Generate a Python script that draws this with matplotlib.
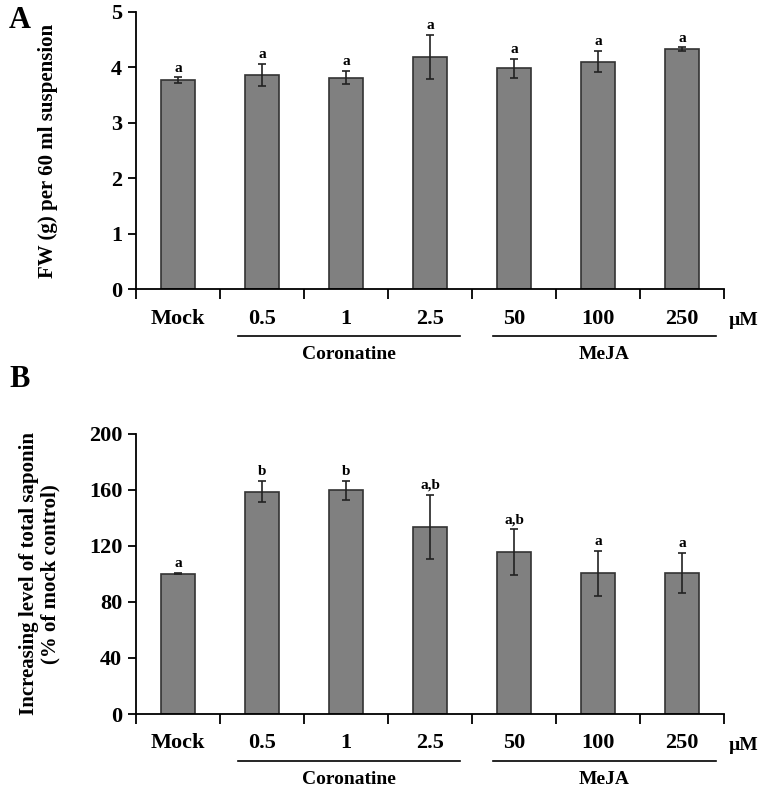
import numpy as np
import matplotlib
matplotlib.use("Agg")
import matplotlib.pyplot as plt
from matplotlib.transforms import offset_copy

plt.rcParams['font.family'] = ['Liberation Serif', 'DejaVu Serif']
plt.rcParams['font.weight'] = 'bold'

categories = ['Mock', '0.5', '1', '2.5', '50', '100', '250']

fw_mean = [3.77, 3.86, 3.81, 4.19, 3.98, 4.10, 4.33]
fw_err = [0.05, 0.20, 0.12, 0.40, 0.17, 0.19, 0.03]
fw_letters = ['a', 'a', 'a', 'a', 'a', 'a', 'a']

sap_mean = [100.0, 158.6, 159.5, 133.5, 115.5, 100.5, 100.5]
sap_err = [0.5, 7.5, 7.0, 23.0, 16.5, 16.0, 14.5]
sap_letters = ['a', 'b', 'b', 'a,b', 'a,b', 'a', 'a']

groups = [('Coronatine', 0.71, 3.36), ('MeJA', 3.75, 6.40)]

BAR = '#808080'
EDGE = '#333333'

fig = plt.figure(figsize=(7.62, 7.90), dpi=100)


def draw_panel(rect, mean, err, letters, ymax, yticks, ylabel, panel, panel_y, label_x):
    ax = fig.add_axes(rect)
    x = np.arange(len(categories))
    ax.bar(x, mean, width=0.41, color=BAR, edgecolor=EDGE, linewidth=1.2, zorder=2)
    ax.errorbar(x, mean, yerr=err, fmt='none', ecolor='#222222', elinewidth=1.2,
                capsize=3, capthick=1.2, zorder=3)
    for xi, m, e, lab in zip(x, mean, err, letters):
        ax.annotate(lab, (xi, m + e), xytext=(0, 2), textcoords='offset points',
                    ha='center', va='bottom', fontsize=11, fontweight='bold')

    ax.set_xlim(-0.5, len(categories) - 0.5)
    ax.set_ylim(0, ymax)
    ax.set_yticks(yticks)
    ax.set_xticks(np.arange(len(categories) + 1) - 0.5)
    ax.set_xticklabels([])
    ax.set_xticks(x, minor=True)
    ax.set_xticklabels(categories, minor=True, fontsize=16, fontweight='bold')
    ax.tick_params(axis='x', which='major', direction='out', length=7, width=1.3)
    ax.tick_params(axis='x', which='minor', length=0, pad=14)
    ax.tick_params(axis='y', direction='out', length=6, width=1.3, labelsize=16, pad=4)
    for t in ax.get_yticklabels():
        t.set_fontweight('bold')
    for s in ['top', 'right']:
        ax.spines[s].set_visible(False)
    for s in ['left', 'bottom']:
        ax.spines[s].set_linewidth(1.3)

    ax.set_ylabel(ylabel, fontsize=15, fontweight='bold', linespacing=1.1)
    ax.yaxis.set_label_coords(label_x, 0.5)

    trans = ax.get_xaxis_transform()
    line_tr = offset_copy(trans, fig=fig, y=-47, units='dots')
    text_tr = offset_copy(trans, fig=fig, y=-65, units='dots')
    for name, x0, x1 in groups:
        ax.plot([x0, x1], [0, 0], color='black', lw=1.2, transform=line_tr, clip_on=False)
        ax.text((x0 + x1) / 2, 0, name, transform=text_tr, ha='center', va='center',
                fontsize=14, fontweight='bold')
    mu_tr = offset_copy(trans, fig=fig, y=-31, units='dots')
    ax.text(len(categories) - 0.5 + 0.05, 0, '\u00b5M', transform=mu_tr, ha='left',
            va='center', fontsize=14, fontweight='bold')

    fig.text(0.012, panel_y, panel, fontsize=22, fontweight='bold',
             ha='left', va='center')
    return ax


draw_panel([0.1785, 0.634, 0.772, 0.351], fw_mean, fw_err, fw_letters, 5,
           [0, 1, 2, 3, 4, 5], 'FW (g) per 60 ml suspension', 'A', 0.974, -0.132)
draw_panel([0.1785, 0.0962, 0.772, 0.355], sap_mean, sap_err, sap_letters, 200,
           [0, 40, 80, 120, 160, 200],
           'Increasing level of total saponin\n(% of mock control)', 'B', 0.519, -0.128)

fig.savefig('out.png', dpi=100)
